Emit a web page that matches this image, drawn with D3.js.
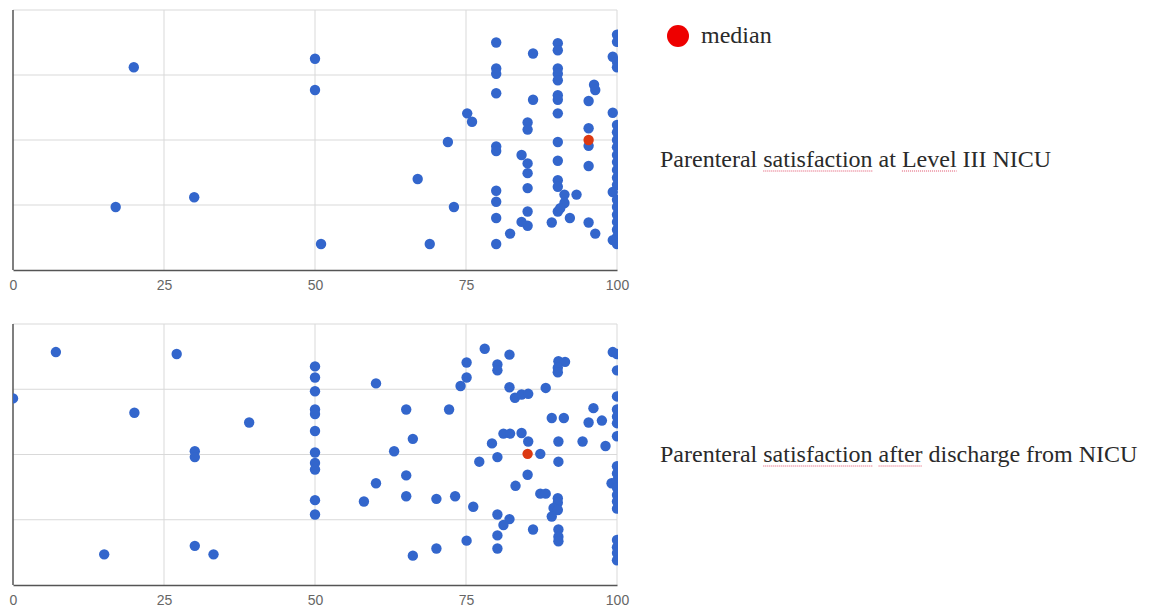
<!DOCTYPE html>
<html>
	<head>
		<meta charset="utf-8">
		<style type="text/css">
			body { margin: 0; background: #fff; }
			.tick text { font-family: "Liberation Sans", Arial, sans-serif; }
		</style>
		<title>Parenteral satisfaction</title>
	</head>
	<body>
		<script src="https://cdn.jsdelivr.net/npm/d3@7"></script>
		<script>

// Scores (x, 0-100) with a vertical jitter value (0-4) for each answer
var nicuPoints = [
	[20,3.12],[50,3.25],[50,2.77],[17,0.97],[30,1.12],[51,0.40],
	[75.2,2.41],[76,2.28],[72,1.97],[67,1.40],[73,0.97],[69,0.40],
	[80,3.50],[80,3.10],[80,3.02],[80,2.72],[80,1.90],[80,1.83],[80,1.22],[80,1.05],[80,0.80],[80,0.40],
	[82.3,0.56],
	[85.2,2.27],[85.2,2.16],[85.2,1.64],[85.2,1.49],[85.2,1.26],[85.2,0.90],[85.2,0.68],[84.2,1.77],[84.2,0.74],
	[86.1,3.33],[86.1,2.62],
	[90.2,3.49],[90.2,3.38],[90.2,3.10],[90.2,3.02],[90.2,2.92],[90.2,2.69],[90.2,2.62],[90.2,2.41],
	[90.2,1.97],[90.2,1.68],[90.2,1.38],[90.2,1.28],[90.2,0.90],
	[91.3,1.16],[93.3,1.16],[91.3,1.03],[90.6,0.95],[89.2,0.73],[92.2,0.80],
	[96.2,2.85],[96.4,2.77],[95.3,2.60],[95.3,2.18],[95.3,1.91],[95.3,1.60],[95.3,0.73],[96.4,0.56],
	[100,3.62],[100,3.51],[99.3,3.28],[100,3.20],[100,3.12],[99.3,2.42],[100,2.23],[100,2.12],[100,2.0],
	[100,1.89],[100,1.77],[100,1.66],[100,1.54],[100,1.42],[100,1.31],[99.3,1.20],[100,1.08],[100,0.97],
	[100,0.85],[100,0.74],[100,0.62],[100,0.51],[99.3,0.46],[100,0.40]
];
var nicuMedian = [95.3, 2.0];

var dischargePoints = [
	[7.1,3.57],[27.1,3.54],[0,2.86],[20.1,2.64],[39.1,2.49],[30.1,2.05],[30.1,1.96],[15.1,0.47],[30.1,0.60],[33.2,0.47],
	[50,3.35],[50,3.18],[50,2.97],[50,2.69],[50,2.62],[50,2.36],[50,2.03],[50,1.87],[50,1.77],[50,1.30],[50,1.08],
	[60.1,3.09],[65.1,2.69],[72.2,2.69],[66.2,2.24],[63.1,2.05],[65.1,1.68],[60.1,1.56],[58.1,1.28],[65.1,1.36],
	[70.1,1.32],[73.2,1.36],[66.2,0.45],[70.1,0.56],
	[75.1,3.41],[75.1,3.18],[74.1,3.05],[76.2,1.2],[75.1,0.68],
	[78.1,3.62],[82.2,3.53],[80.2,3.38],[80.2,3.29],
	[90.3,3.43],[91.4,3.42],[90.2,3.33],[90.2,3.26],
	[82.2,3.03],[83.1,2.87],[84.2,2.92],[85.3,2.93],[88.2,3.02],
	[89.2,2.56],[91.2,2.56],[96.1,2.71],[95.3,2.49],[97.5,2.52],
	[81.2,2.32],[82.3,2.32],[84.2,2.33],[85.3,2.2],[79.3,2.17],[90.3,2.2],[94.3,2.2],[98.1,2.13],
	[87.3,2.01],[80.2,1.96],[77.2,1.89],[90.3,1.89],[85.2,1.69],[83.2,1.52],[87.3,1.40],[88.2,1.40],
	[90.2,1.33],[90.2,1.26],[89.5,1.18],[90.2,1.15],[89.2,1.05],
	[80.2,1.08],[82.2,1.01],[81.2,0.92],[80.2,0.76],[80.2,0.56],[86.1,0.85],[90.3,0.85],[90.3,0.74],[90.3,0.67],
	[99.3,3.57],[100,3.54],[100,3.29],[100,2.89],[100,2.69],[100,2.58],[100,2.48],[100,2.28],[100,1.82],
	[100,1.71],[99.1,1.56],[100,1.60],[100,1.49],[100,1.38],[100,1.28],[100,1.17],[100,0.69],[100,0.58],
	[100,0.49],[100,0.38]
];
var dischargeMedian = [85.2, 2.01];

var xTicks = [0, 25, 50, 75, 100];
var yTicks = [0, 1, 2, 3, 4];

// label words; the flagged ones carry the red spell-check underline
var nicuLabel = [["Parenteral", false], ["satisfaction", true], ["at", false], ["Level", true], ["III NICU", false]];
var dischargeLabel = [["Parenteral", false], ["satisfaction", true], ["after", true], ["discharge from NICU", false]];
var legendLabel = "median";

var blue = "#3366cc", red = "#dc3912";

var svg = d3.select("body").append("svg")
	.attr("width", 1151)
	.attr("height", 609);

var x = d3.scaleLinear().domain([0, 100]).range([13, 617]);

function panel(points, median, top, bottom, id) {
	var y = d3.scaleLinear().domain([0, 4]).range([bottom, top]);

	svg.append("clipPath").attr("id", id)
	  .append("rect")
		.attr("x", x(0)).attr("y", y(4))
		.attr("width", x(100) - x(0) + 1).attr("height", y(0) - y(4));

	// gridlines
	svg.append("g")
		.selectAll("line")
		.data(xTicks.slice(1))
	  .enter().append("line")
		.attr("x1", d => x(d)).attr("x2", d => x(d))
		.attr("y1", y(0)).attr("y2", y(4))
		.attr("stroke", "#d9d9d9");
	svg.append("g")
		.selectAll("line")
		.data(yTicks.slice(1))
	  .enter().append("line")
		.attr("x1", x(0)).attr("x2", x(100))
		.attr("y1", d => y(d)).attr("y2", d => y(d))
		.attr("stroke", "#d9d9d9");

	// baselines
	svg.append("line")
		.attr("x1", x(0)).attr("x2", x(0)).attr("y1", y(0)).attr("y2", y(4))
		.attr("stroke", "#555").attr("stroke-width", 1.5);

	var xAxis = d3.axisBottom(x).tickValues(xTicks).tickSize(0).tickPadding(10);
	var ax = svg.append("g")
		.attr("transform", `translate(0,${y(0)})`)
		.call(xAxis);
	ax.select(".domain").attr("stroke", "#555").attr("stroke-width", 1.5);
	ax.selectAll("text").attr("fill", "#666").style("font-size", "14px");

	var g = svg.append("g").attr("clip-path", `url(#${id})`);
	g.selectAll("circle")
		.data(points)
	  .enter().append("circle")
		.attr("cx", d => x(d[0]))
		.attr("cy", d => y(d[1]))
		.attr("r", 5.2)
		.attr("fill", blue);

	g.append("circle")
		.attr("cx", x(median[0]))
		.attr("cy", y(median[1]))
		.attr("r", 5.2)
		.attr("fill", red);
}

panel(nicuPoints, nicuMedian, 10, 270, "clipA");
panel(dischargePoints, dischargeMedian, 324, 585, "clipB");

// side labels with red dotted underline under flagged words
function sideLabel(words, px, py) {
	var t = svg.append("text")
		.attr("x", px).attr("y", py)
		.style("font-family", "'Liberation Serif', 'DejaVu Serif', serif")
		.style("font-size", "24px")
		.attr("fill", "#2a2a2a");
	var spans = [];
	words.forEach((w, i) => {
		spans.push(t.append("tspan").text((i ? " " : "") + w[0]));
	});
	words.forEach((w, i) => {
		if (!w[1]) return;
		var node = spans[i].node();
		var n = node.getNumberOfChars();
		var x0 = node.getStartPositionOfChar(1).x;
		var x1 = node.getEndPositionOfChar(n - 1).x;
		svg.append("line")
			.attr("x1", x0).attr("x2", x1)
			.attr("y1", py + 4).attr("y2", py + 4)
			.attr("stroke", "#e0506a")
			.attr("stroke-width", 1)
			.attr("stroke-dasharray", "1,1");
	});
}

sideLabel(nicuLabel, 660, 167);
sideLabel(dischargeLabel, 660, 462);

// legend
svg.append("circle").attr("cx", 678).attr("cy", 36).attr("r", 11).attr("fill", "#ee0000");
svg.append("text").text(legendLabel)
	.attr("x", 701).attr("y", 43)
	.style("font-family", "'Liberation Serif', 'DejaVu Serif', serif")
	.style("font-size", "24px")
	.attr("fill", "#2a2a2a");

		</script>
	</body>
</html>
